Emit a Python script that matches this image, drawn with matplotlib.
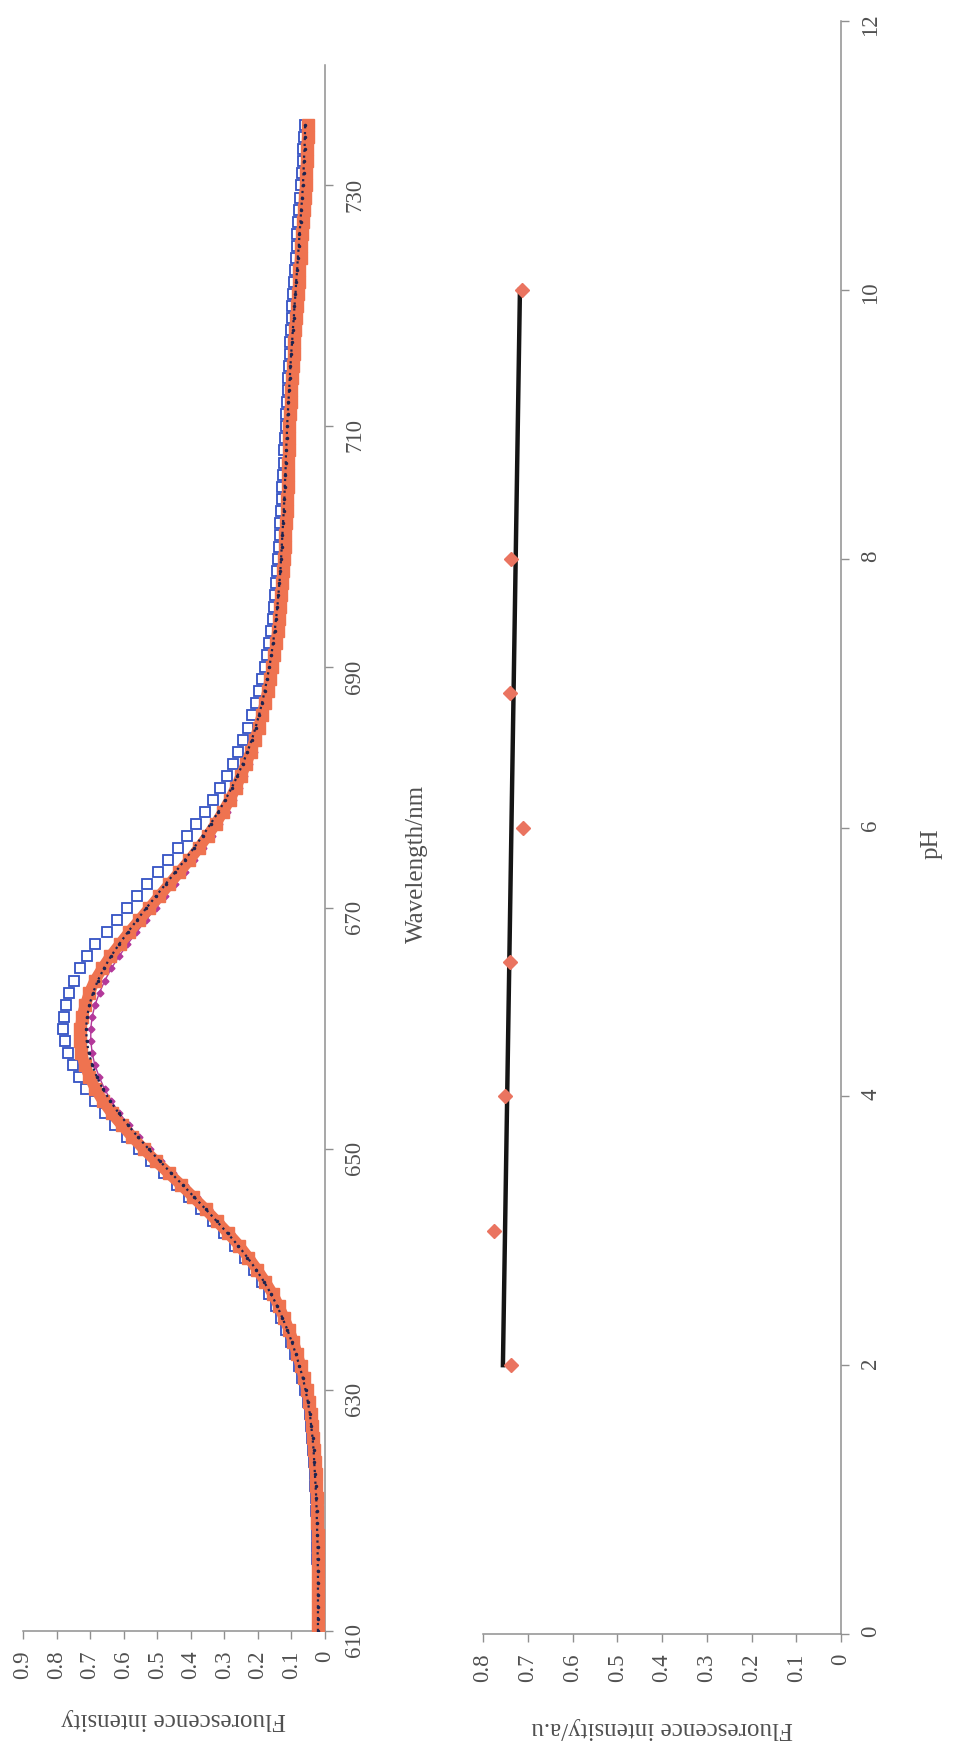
import matplotlib
matplotlib.use('Agg')
import matplotlib.pyplot as plt
import numpy as np

plt.rcParams['font.family'] = ['Liberation Serif', 'DejaVu Serif']

# emission spectra, one reading per nm from 610 to 735 nm
wavelength = np.arange(610, 736)

spec_blue = [
    0.022, 0.022, 0.022, 0.022, 0.022, 0.022, 0.023, 0.023, 0.024, 0.025,
    0.026, 0.027, 0.029, 0.030, 0.032, 0.035, 0.038, 0.041, 0.046, 0.052,
    0.059, 0.068, 0.078, 0.089, 0.101, 0.115, 0.130, 0.147, 0.166, 0.188,
    0.212, 0.239, 0.268, 0.300, 0.334, 0.369, 0.405, 0.442, 0.480, 0.518,
    0.555, 0.591, 0.625, 0.657, 0.686, 0.711, 0.733, 0.751, 0.765, 0.775,
    0.780, 0.779, 0.773, 0.762, 0.748, 0.730, 0.709, 0.685, 0.650, 0.620,
    0.590, 0.560, 0.529, 0.498, 0.468, 0.439, 0.411, 0.384, 0.359, 0.335,
    0.313, 0.293, 0.275, 0.258, 0.243, 0.229, 0.217, 0.206, 0.196, 0.187,
    0.179, 0.172, 0.166, 0.161, 0.156, 0.152, 0.148, 0.145, 0.142, 0.139,
    0.137, 0.135, 0.133, 0.131, 0.129, 0.127, 0.125, 0.123, 0.121, 0.119,
    0.117, 0.115, 0.113, 0.111, 0.109, 0.107, 0.105, 0.103, 0.101, 0.099,
    0.097, 0.094, 0.092, 0.089, 0.087, 0.084, 0.082, 0.079, 0.077, 0.074,
    0.071, 0.069, 0.067, 0.065, 0.063, 0.061,
]

spec_magenta = [
    0.019, 0.019, 0.019, 0.019, 0.019, 0.019, 0.020, 0.020, 0.021, 0.022,
    0.023, 0.024, 0.026, 0.027, 0.029, 0.031, 0.034, 0.037, 0.041, 0.046,
    0.052, 0.060, 0.069, 0.080, 0.091, 0.104, 0.118, 0.134, 0.152, 0.173,
    0.196, 0.221, 0.249, 0.280, 0.313, 0.347, 0.382, 0.417, 0.453, 0.489,
    0.523, 0.555, 0.585, 0.613, 0.637, 0.657, 0.673, 0.686, 0.694, 0.698,
    0.698, 0.694, 0.685, 0.672, 0.656, 0.637, 0.614, 0.589, 0.562, 0.534,
    0.505, 0.476, 0.447, 0.418, 0.390, 0.363, 0.338, 0.315, 0.293, 0.274,
    0.256, 0.240, 0.226, 0.213, 0.202, 0.192, 0.183, 0.175, 0.167, 0.160,
    0.154, 0.148, 0.143, 0.139, 0.135, 0.131, 0.128, 0.125, 0.122, 0.120,
    0.118, 0.116, 0.114, 0.112, 0.110, 0.109, 0.108, 0.107, 0.106, 0.105,
    0.104, 0.102, 0.100, 0.098, 0.096, 0.094, 0.091, 0.089, 0.086, 0.084,
    0.081, 0.079, 0.076, 0.074, 0.071, 0.069, 0.066, 0.064, 0.061, 0.059,
    0.056, 0.055, 0.053, 0.052, 0.050, 0.049,
]

spec_orange = [
    0.020, 0.020, 0.020, 0.020, 0.020, 0.020, 0.021, 0.021, 0.022, 0.023,
    0.024, 0.025, 0.027, 0.028, 0.030, 0.032, 0.035, 0.038, 0.042, 0.047,
    0.054, 0.062, 0.072, 0.083, 0.094, 0.107, 0.122, 0.138, 0.156, 0.178,
    0.202, 0.228, 0.256, 0.288, 0.322, 0.356, 0.392, 0.428, 0.466, 0.504,
    0.540, 0.574, 0.606, 0.636, 0.662, 0.684, 0.702, 0.716, 0.726, 0.730,
    0.729, 0.724, 0.714, 0.702, 0.686, 0.664, 0.640, 0.612, 0.584, 0.554,
    0.524, 0.494, 0.464, 0.434, 0.404, 0.376, 0.350, 0.326, 0.304, 0.284,
    0.266, 0.250, 0.235, 0.221, 0.209, 0.198, 0.188, 0.179, 0.171, 0.164,
    0.157, 0.151, 0.146, 0.141, 0.137, 0.133, 0.130, 0.127, 0.124, 0.122,
    0.120, 0.118, 0.116, 0.114, 0.112, 0.111, 0.110, 0.109, 0.108, 0.107,
    0.106, 0.104, 0.102, 0.100, 0.098, 0.096, 0.093, 0.091, 0.088, 0.086,
    0.083, 0.081, 0.078, 0.076, 0.073, 0.071, 0.068, 0.066, 0.063, 0.061,
    0.058, 0.057, 0.055, 0.054, 0.052, 0.051,
]

spec_navy = [
    0.021, 0.021, 0.021, 0.021, 0.021, 0.021, 0.022, 0.022, 0.023, 0.024,
    0.025, 0.026, 0.028, 0.030, 0.032, 0.034, 0.037, 0.041, 0.045, 0.051,
    0.058, 0.066, 0.076, 0.087, 0.099, 0.112, 0.127, 0.143, 0.161, 0.182,
    0.205, 0.231, 0.259, 0.290, 0.322, 0.355, 0.389, 0.423, 0.458, 0.492,
    0.525, 0.557, 0.587, 0.615, 0.640, 0.662, 0.680, 0.694, 0.704, 0.710,
    0.712, 0.709, 0.702, 0.691, 0.677, 0.659, 0.638, 0.614, 0.588, 0.561,
    0.533, 0.504, 0.475, 0.446, 0.418, 0.391, 0.365, 0.341, 0.318, 0.297,
    0.278, 0.261, 0.245, 0.231, 0.218, 0.207, 0.197, 0.188, 0.180, 0.173,
    0.166, 0.160, 0.155, 0.150, 0.146, 0.142, 0.139, 0.136, 0.133, 0.131,
    0.129, 0.127, 0.125, 0.123, 0.121, 0.120, 0.118, 0.117, 0.116, 0.114,
    0.113, 0.111, 0.109, 0.107, 0.105, 0.103, 0.101, 0.098, 0.096, 0.093,
    0.091, 0.088, 0.086, 0.083, 0.081, 0.078, 0.076, 0.073, 0.071, 0.068,
    0.066, 0.064, 0.063, 0.061, 0.060, 0.059,
]

# intensity at the emission maximum against pH
ph_values = [2, 3, 4, 5, 6, 7, 8, 10]
ph_intensity = [0.738, 0.776, 0.750, 0.740, 0.711, 0.740, 0.738, 0.713]

spec_ticks = [0, 0.1, 0.2, 0.3, 0.4, 0.5, 0.6, 0.7, 0.8, 0.9]
spec_ticklabels = ['0', '0.1', '0.2', '0.3', '0.4', '0.5', '0.6', '0.7', '0.8', '0.9']
wl_ticks = [610, 630, 650, 670, 690, 710, 730]
ph_int_ticks = [0, 0.1, 0.2, 0.3, 0.4, 0.5, 0.6, 0.7, 0.8]
ph_int_ticklabels = ['0', '0.1', '0.2', '0.3', '0.4', '0.5', '0.6', '0.7', '0.8']
ph_ticks = [0, 2, 4, 6, 8, 10, 12]

W, H = 967, 1754
AXIS_GREY = '#8f8f8f'
TEXT = '#505050'

fig = plt.figure(figsize=(W / 100, H / 100), dpi=100, facecolor='white')


def px_axes(left, right, top, bottom):
    return fig.add_axes([left / W, 1 - bottom / H, (right - left) / W, (bottom - top) / H])


def page_style(ax):
    # page is turned a quarter turn: value axis runs leftwards, category axis upwards
    for side in ('left', 'top'):
        ax.spines[side].set_visible(False)
    for side in ('right', 'bottom'):
        ax.spines[side].set_color(AXIS_GREY)
        ax.spines[side].set_linewidth(1.1)
    ax.yaxis.tick_right()
    ax.yaxis.set_label_position('right')
    ax.tick_params(axis='both', direction='out', length=6, width=1, color=AXIS_GREY,
                   labelsize=16.5, labelcolor=TEXT, labelrotation=90, pad=8)
    ax.set_facecolor('white')


# spectra
ax1 = px_axes(23, 325, 65, 1631)
page_style(ax1)
ax1.plot(spec_blue, wavelength, ls='none', marker='s', ms=7.5, mfc='none',
         mec='#3452c4', mew=1.3, zorder=2)
ax1.plot(spec_magenta, wavelength, ls='-', lw=1, color='#b3389a', marker='D', ms=3.5,
         zorder=3)
ax1.plot(spec_orange, wavelength, ls='-', lw=8, color='#ef7350', marker='s', ms=8.5,
         mec='#ef7350', zorder=4)
ax1.plot(spec_navy, wavelength, ls=':', lw=1.6, color='#1c2450', marker='.', ms=3,
         zorder=5)
ax1.set_xlim(0.9, 0)
ax1.set_ylim(610, 740)
ax1.set_xticks(spec_ticks)
ax1.set_xticklabels(spec_ticklabels)
ax1.set_yticks(wl_ticks)
ax1.set_xlabel('Fluorescence intensity', fontsize=18, color=TEXT, rotation=180,
               ha='center', va='center')
ax1.xaxis.set_label_coords(0.5, -0.056)
ax1.set_ylabel('Wavelength/nm', fontsize=18, color=TEXT, rotation=90,
               ha='center', va='center')
ax1.yaxis.set_label_coords(1.305, 0.49)

# pH dependence with linear trend
ax2 = px_axes(483, 841, 21, 1634)
page_style(ax2)
slope, intercept = np.polyfit(ph_values, ph_intensity, 1)
ph_line = np.array([ph_values[0], ph_values[-1]])
ax2.plot(slope * ph_line + intercept, ph_line, color='#151515', lw=3.2, zorder=2)
ax2.plot(ph_intensity, ph_values, ls='none', marker='D', ms=7.5, color='#ea7460',
         mec='#ea7460', zorder=3)
ax2.set_xlim(0.8, 0)
ax2.set_ylim(0, 12)
ax2.set_xticks(ph_int_ticks)
ax2.set_xticklabels(ph_int_ticklabels)
ax2.set_yticks(ph_ticks)
ax2.set_xlabel('Fluorescence intensity/a.u', fontsize=18, color=TEXT, rotation=180,
               ha='center', va='center')
ax2.xaxis.set_label_coords(0.5, -0.058)
ax2.set_ylabel('pH', fontsize=18, color=TEXT, rotation=90, ha='center', va='center')
ax2.yaxis.set_label_coords(1.254, 0.49)

fig.savefig('out.png', dpi=100, facecolor='white')
